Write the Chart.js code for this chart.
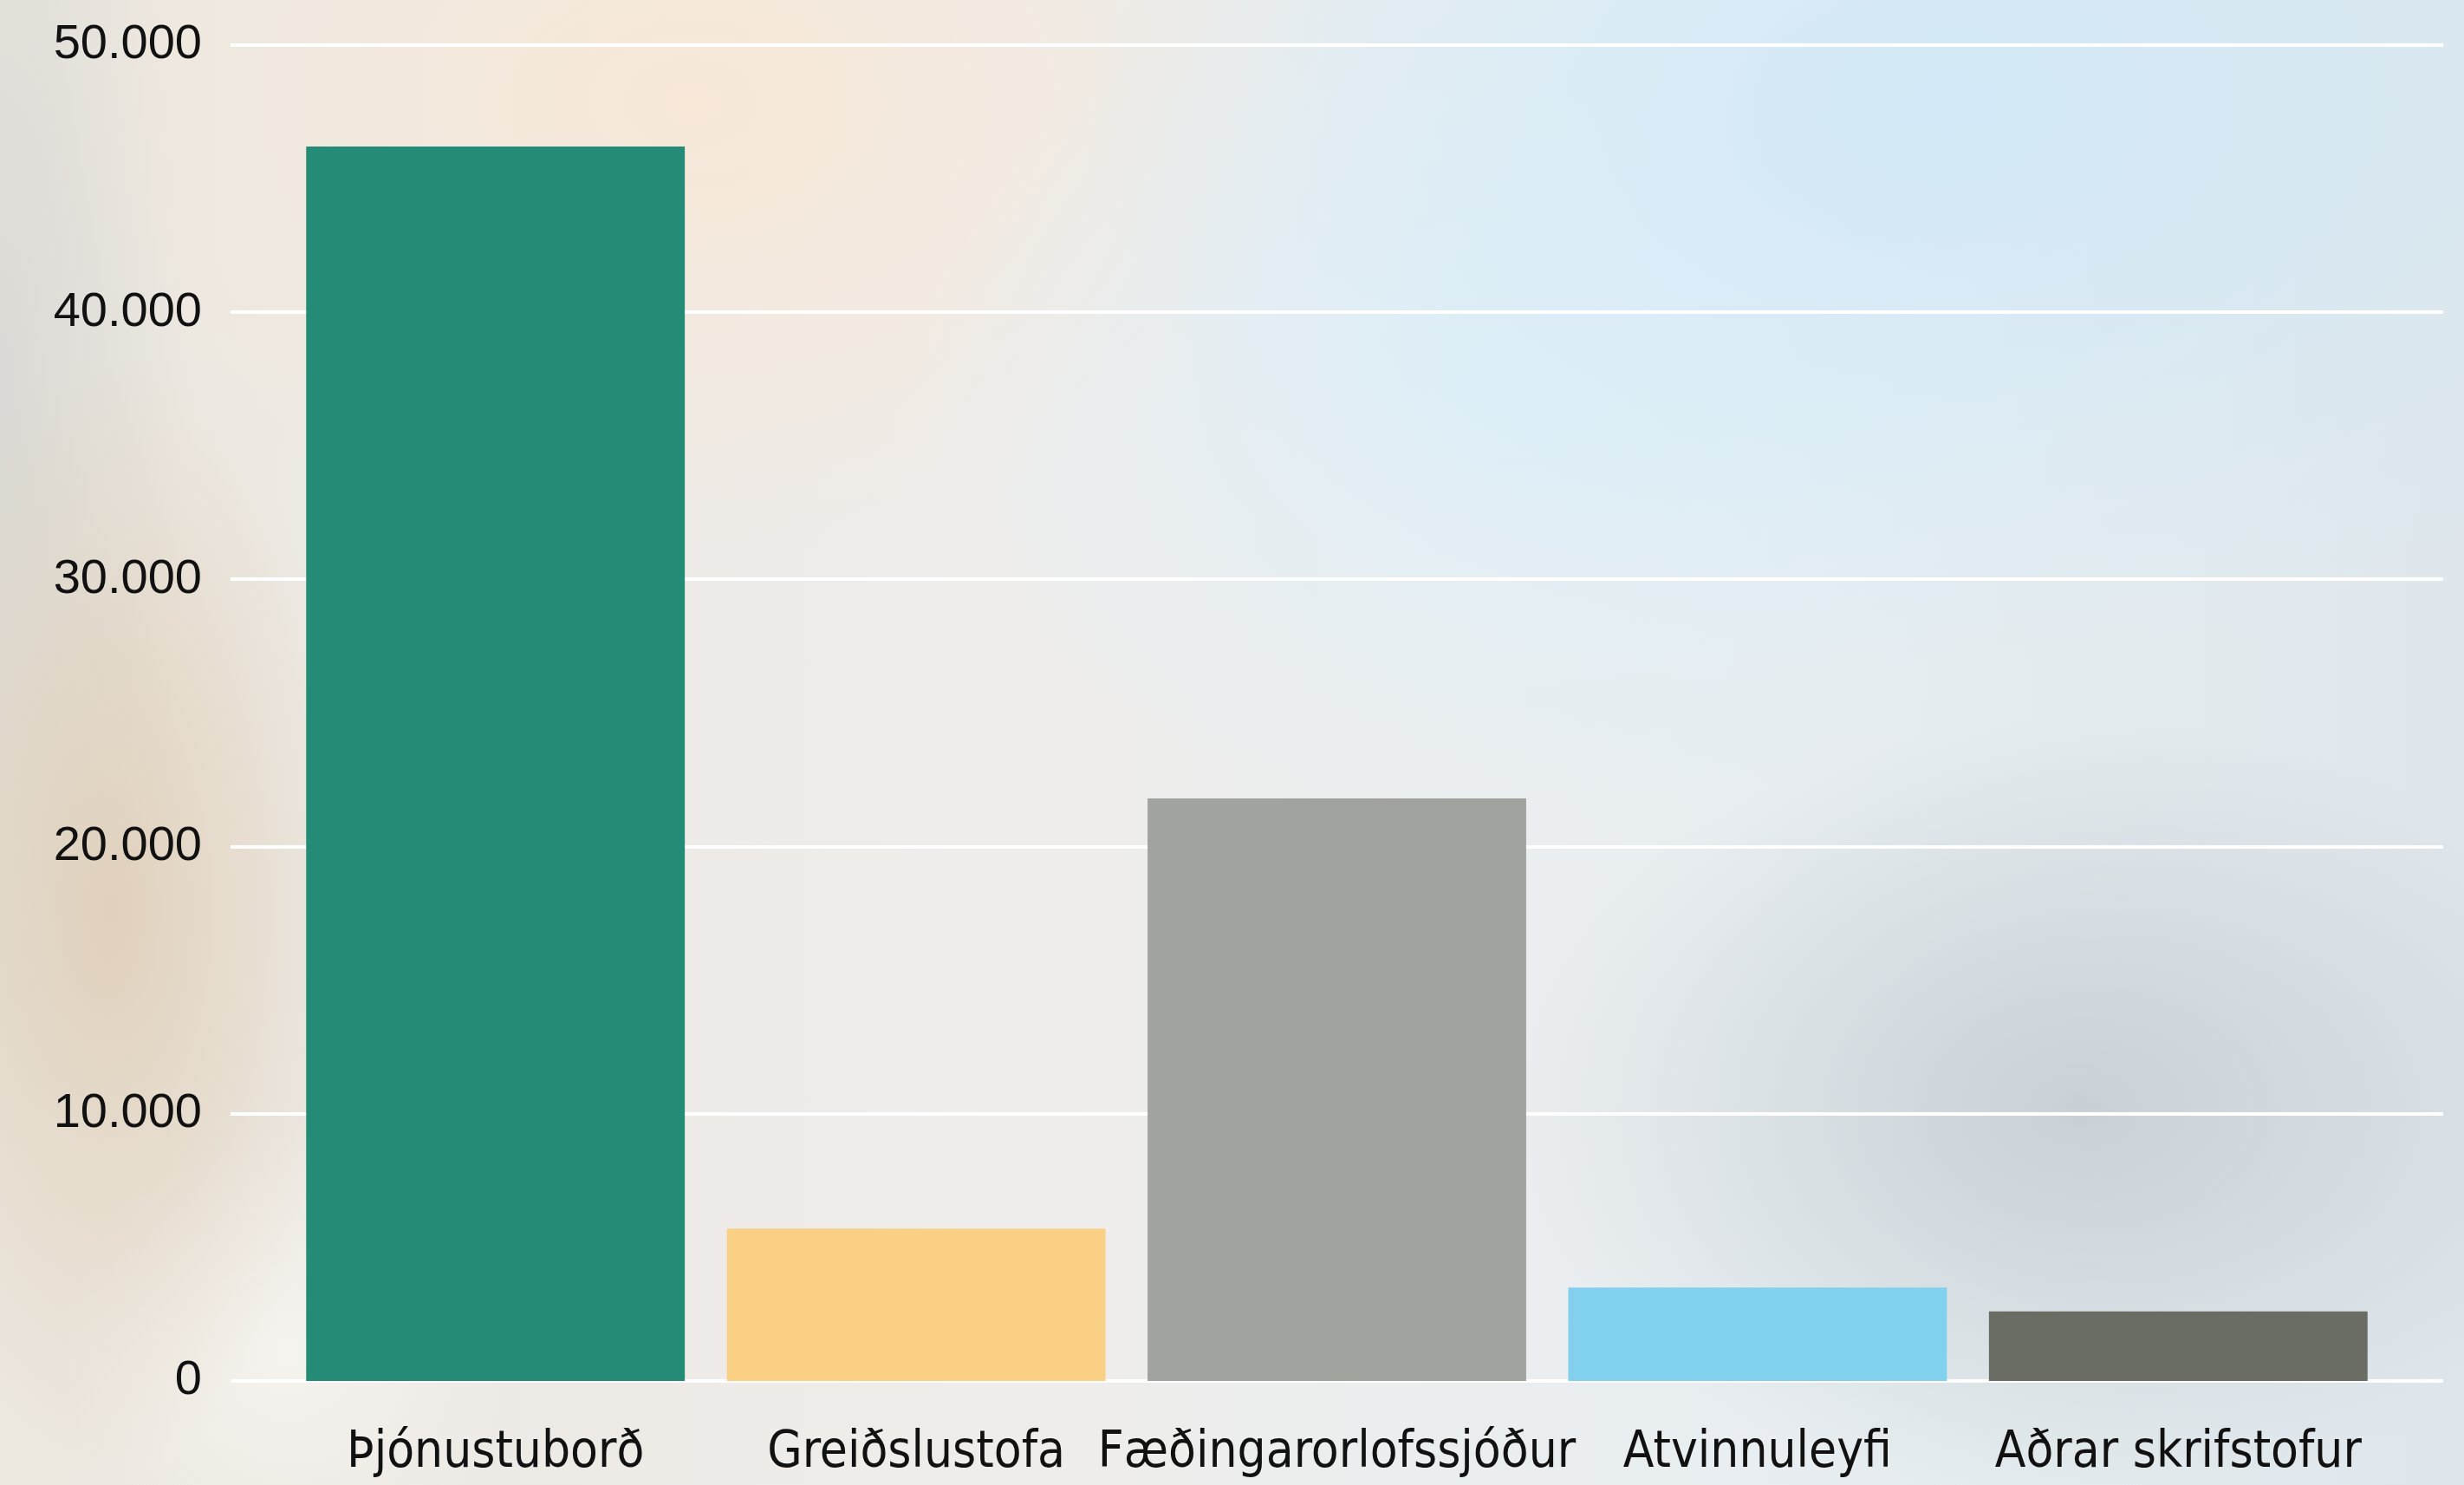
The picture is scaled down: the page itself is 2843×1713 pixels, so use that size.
<!DOCTYPE html>
<html>
<head>
<meta charset="utf-8">
<script src="https://cdn.jsdelivr.net/npm/chart.js@4/dist/chart.umd.min.js"></script>
<style>
    html, body {
        margin: 0;
        padding: 0;
        width: 2843px;
        height: 1713px;
        overflow: hidden;
    }
    body {
        background:
            radial-gradient(ellipse 650px 450px at 2400px 1280px, rgba(192, 200, 206, 0.75), rgba(192, 200, 206, 0) 100%),
            radial-gradient(ellipse 1000px 650px at 2250px 120px, rgba(210, 233, 247, 1), rgba(210, 233, 247, 0) 100%),
            radial-gradient(ellipse 700px 500px at 1750px 450px, rgba(224, 240, 249, 0.9), rgba(224, 240, 249, 0) 100%),
            radial-gradient(ellipse 750px 520px at 800px 120px, rgba(247, 232, 216, 1), rgba(247, 232, 216, 0) 100%),
            radial-gradient(ellipse 280px 650px at 130px 1050px, rgba(222, 205, 182, 0.85), rgba(222, 205, 182, 0) 100%),
            radial-gradient(ellipse 220px 900px at 0px 450px, rgba(216, 216, 212, 0.9), rgba(216, 216, 212, 0) 100%),
            radial-gradient(ellipse 260px 260px at 330px 1560px, rgba(248, 246, 242, 0.8), rgba(248, 246, 242, 0) 100%),
            linear-gradient(90deg, #ece7df 0%, #efedeb 40%, #e8eef1 70%, #dfe7ec 100%);
    }
    #wrap {
        position: absolute;
        left: 0;
        top: 0;
        width: 2843px;
        height: 1713px;
    }
</style>
</head>
<body>
<div id="wrap"><canvas id="serviceChart" width="2843" height="1713"></canvas></div>
<script>

const categories = [
    'Þjónustuborð',
    'Greiðslustofa',
    'Fæðingarorlofssjóður',
    'Atvinnuleyfi',
    'Aðrar skrifstofur'
];

const values = [46200, 5700, 21800, 3500, 2600];

const barColors = ['#248b77', '#fad084', '#a1a39e', '#80d0ee', '#6a6d63'];

const yTicks = [0, 10000, 20000, 30000, 40000, 50000];

const formatNumber = (v) => String(v).replace(/\B(?=(\d{3})+(?!\d))/g, '.');

// white gridlines that run a bit past the bars on both sides
const wideGrid = {
    id: 'wide_grid',
    beforeDatasetsDraw: (chart) => {
        const ctx = chart.ctx;
        const y = chart.scales.y;
        const { left, right } = chart.chartArea;
        ctx.save();
        ctx.strokeStyle = '#ffffff';
        ctx.lineWidth = 4;
        yTicks.forEach((t) => {
            const py = Math.round(y.getPixelForValue(t));
            ctx.beginPath();
            ctx.moveTo(left - 63, py);
            ctx.lineTo(right + 63, py);
            ctx.stroke();
        });
        ctx.restore();
    }
};

const config = {
    type: 'bar',
    data: {
        labels: categories,
        datasets: [{
            data: values,
            backgroundColor: barColors,
            categoryPercentage: 0.9,
            barPercentage: 1.0,
            borderWidth: 0
        }]
    },
    plugins: [wideGrid],
    options: {
        responsive: false,
        animation: false,
        layout: {
            padding: { top: 52, right: 87, bottom: 0, left: 0 }
        },
        plugins: {
            legend: { display: false },
            tooltip: { enabled: false }
        },
        scales: {
            x: {
                grid: { display: false, drawTicks: true, tickLength: 41 },
                border: { display: false },
                afterFit: (scale) => { scale.height = 120; },
                ticks: {
                    color: '#111111',
                    padding: 8,
                    maxRotation: 0,
                    autoSkip: false,
                    font: { family: "'Liberation Sans Narrow', 'DejaVu Sans Condensed', 'Liberation Sans', sans-serif", size: 58 }
                }
            },
            y: {
                min: 0,
                max: 50000,
                grid: { display: false, drawTicks: true, tickLength: 90 },
                border: { display: false },
                afterFit: (scale) => { scale.width = 329; },
                afterBuildTicks: (scale) => {
                    scale.ticks = yTicks.map((v) => ({ value: v }));
                },
                ticks: {
                    color: '#111111',
                    padding: 6,
                    font: { family: "'Liberation Sans', sans-serif", size: 56 },
                    callback: (v) => formatNumber(v)
                }
            }
        }
    }
};

new Chart(document.getElementById('serviceChart'), config);
</script>
</body>
</html>
